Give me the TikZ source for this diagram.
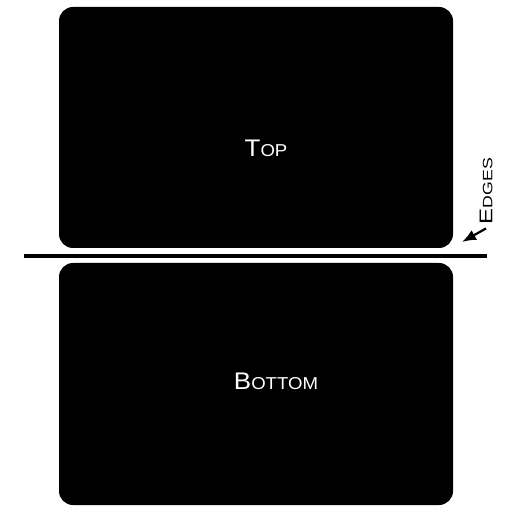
\documentclass[tikz,border=0pt]{standalone}
\usepackage{fontspec}
\setmainfont{Liberation Sans}
\newfontfamily\widefont[FakeStretch=1.08]{Liberation Sans}
\newfontfamily\widerfont[FakeStretch=1.3]{Liberation Sans}
\usetikzlibrary{arrows.meta}
\newcommand\fakesc[4]{{\fontsize{#1}{#1}\selectfont #3}{\fontsize{#2}{#2}\selectfont #4}}
\begin{document}
\begin{tikzpicture}[x=0.5pt,y=-0.5pt,
  panel/.style={fill=black,draw=none,rounded corners=7pt},
  paneltext/.style={text=white,inner sep=0pt,font=\widefont},
  edgelabel/.style={rotate=90,inner sep=1pt,text=black,font=\widerfont},
  divider/.style={line width=2pt,black},
  pointer/.style={-{Latex[length=7pt,width=5.5pt]},line width=1.1pt}]
\useasboundingbox (0,0) rectangle (512,512);
\fill[panel] (59,7) rectangle (453,248);
\fill[panel] (59,263) rectangle (453,505);
\node[paneltext] (top) at (266,148) {\fakesc{12}{8.6}{T}{OP}};
\node[paneltext] (bottom) at (276,381) {\fakesc{12}{8.6}{B}{OTTOM}};
\coordinate (lstart) at (24,256);
\coordinate (lend) at (487,256);
\draw[divider] (lstart) -- (lend);
\node[edgelabel] (edges) at (486,191) {\fakesc{9.2}{6.8}{E}{DGES}};
\coordinate (tip) at (462,242);
\draw[pointer] ([xshift=0pt,yshift=-1pt]edges.west) -- (tip);
\end{tikzpicture}
\end{document}
